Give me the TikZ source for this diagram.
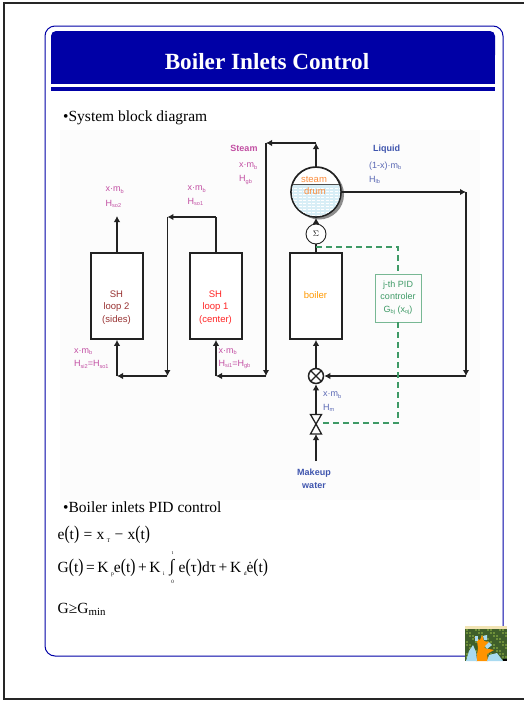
\documentclass[tikz,border=0pt]{standalone}
\usepackage{fontspec}
\setmainfont{Liberation Serif}
\newfontfamily\labelfont{Liberation Sans}
\usepackage{xcolor}
\usepackage{tikz}
\usetikzlibrary{arrows.meta,calc}
\definecolor{navy}{HTML}{0000A6}
\definecolor{ink}{HTML}{222222}
\definecolor{steamcol}{HTML}{C24FA3}
\definecolor{liquidcol}{HTML}{5A68B4}
\definecolor{makeupcol}{HTML}{3F55AE}
\definecolor{pidcol}{HTML}{3E9A66}
\definecolor{orangecol}{HTML}{FB8C3C}
\definecolor{watercol}{HTML}{D8EEF6}
\definecolor{leafcol}{HTML}{3F5F2A}
\definecolor{leafspeck}{HTML}{6E8F3A}
\definecolor{palmcol}{HTML}{A9DAF0}
\newcommand{\subtxt}[1]{\raisebox{-0.3ex}{\scalebox{0.62}{#1}}}
\newcommand{\tinysub}[1]{\raisebox{-0.45ex}{\scalebox{0.36}{#1}}}
\newcommand{\bigp}[1]{\scalebox{1}[1.25]{#1}}
\tikzset{
  flow/.style={draw=ink, line width=1.7pt},
  flowarrow/.style={flow, -{Latex[length=6pt,width=6.5pt]}},
  pidline/.style={draw=pidcol, line width=1.7pt, dash pattern=on 6pt off 4pt},
  blockbox/.style={draw=ink, line width=1.7pt, fill=white, minimum width=52pt, minimum height=86pt, inner sep=0pt},
  blocktext/.style={inner sep=0pt, align=center, font=\labelfont\fontsize{9.5}{12.5}\selectfont},
  flowlabel/.style={inner sep=0pt, anchor=west, font=\labelfont\fontsize{9}{11}\selectfont},
  headlabel/.style={inner sep=0pt, font=\labelfont\bfseries\fontsize{9}{11}\selectfont},
  slidetext/.style={inner sep=0pt, anchor=west, font=\fontsize{15.5}{17}\selectfont, text=black},
}
\begin{document}
\begin{tikzpicture}[x=1pt,y=-1pt]
  \useasboundingbox (0,0) rectangle (524,702);
  \fill[white] (0,0) rectangle (524,702);
  % slide frame
  \draw[black!85, line width=1.8pt] (524,3) -- (4,3) -- (4,699) -- (524,699);
  \draw[navy, line width=1pt, rounded corners=10pt] (503,627) -- (503,26) -- (45,26) -- (45,656) -- (465,656);
  \fill[navy, rounded corners=5pt] (51,31) rectangle (495,60);
  \fill[navy] (51,45) rectangle (495,84);
  \fill[navy] (51,87) rectangle (495,91);
  \node[inner sep=0pt, text=white, font=\bfseries\fontsize{23.2}{25}\selectfont] (title) at (267,62) {Boiler Inlets Control};
  \node[slidetext] (diagramtext) at (63,118) {•System block diagram};
  \fill[black!1] (60,130) rectangle (480,500);

  % blocks
  \node[blockbox] (shtwo) at (117,296) {};
  \node[blockbox] (shone) at (216,296) {};
  \node[blockbox] (boiler) at (316,296) {};
  \node[blocktext, text=red!50!black!80] (shtwotxt) at (116.5,307.5) {SH\\loop 2\\(sides)};
  \node[blocktext, text=red!85] (shonetxt) at (215.5,307.5) {SH\\loop 1\\(center)};
  \node[blocktext, text=orange!80!yellow] (boilertxt) at (315.5,295.5) {boiler};
  \node[draw=pidcol!70, line width=0.8pt, minimum width=46pt, minimum height=48pt, inner sep=0pt, align=center,
        text=pidcol, font=\labelfont\fontsize{9}{12.5}\selectfont] (pid) at (398,298)
        {j-th PID\\controler\\G\subtxt{bj} (x\subtxt{oj})};

  % steam drum
  \fill[black!45] (319,194.5) circle (25);
  \node[circle, draw=ink, line width=1.7pt, fill=white, minimum size=50pt, inner sep=0pt] (drum) at (316,192) {};
  \begin{scope}
    \clip (316,192) circle (24.1);
    \fill[watercol] (285,184.5) rectangle (347,220);
    \foreach \wy in {188,191,...,216}
      \draw[white, line width=0.4pt, dash pattern=on 3pt off 1.5pt] (285,\wy) -- (347,\wy);
    \draw[ink!80, line width=0.9pt] (285,184.5) -- (347,184.5);
  \end{scope}
  \node[inner sep=0pt, text=orangecol, font=\labelfont\fontsize{9.5}{11}\selectfont] (steamtxt) at (314,179) {steam};
  \node[inner sep=0pt, text=orangecol, font=\labelfont\fontsize{9.5}{11}\selectfont] (drumtxt) at (315,191) {drum};

  \node[circle, draw=ink, line width=0.9pt, fill=white, minimum size=20pt, inner sep=0pt, font=\fontsize{8}{9}\selectfont] (sigma) at (316,234) {$\Sigma$};
  \node[circle, draw=ink, line width=1.5pt, fill=white, minimum size=15pt, inner sep=0pt] (mixer) at (316,376) {};
  \draw[ink, line width=1.3pt] (mixer.north west) -- (mixer.south east) (mixer.north east) -- (mixer.south west);

  % valve
  \coordinate (valve) at (316,424);
  \coordinate (valvetop) at (316,414.5);
  \coordinate (valvebot) at (316,434);
  \draw[ink, line width=1.3pt, fill=white] (310.5,414.5) -- (321.5,414.5) -- (valve) -- cycle;
  \draw[ink, line width=1.3pt, fill=white] (310.5,434) -- (321.5,434) -- (valve) -- cycle;

  % bends
  \coordinate (makeup) at (316,461);
  \coordinate (drumtop) at (316,143);
  \coordinate (steamup) at (266,143);
  \coordinate (steamdown) at (266,376);
  \coordinate (shoneunder) at (216,376);
  \coordinate (shoneover) at (216,217);
  \coordinate (crossover) at (167.4,217);
  \coordinate (crossdown) at (167.4,376);
  \coordinate (shtwounder) at (117,376);
  \coordinate (shtwoout) at (117,216);
  \coordinate (liquidbend) at (466,192);
  \coordinate (liquiddown) at (466,376);

  % water and steam lines
  \draw[flowarrow] (makeup) -- (valvebot);
  \draw[flowarrow] (valvetop) -- (mixer.south);
  \draw[flowarrow] (mixer.north) -- (boiler.south);
  \draw[flow] (boiler.north) -- (sigma.south);
  \draw[flowarrow] (sigma.north) -- (drum.south);
  \draw[flowarrow] (drum.north) -- (drumtop);
  \draw[flowarrow] (drumtop) -- (steamup);
  \draw[flowarrow] (steamup) -- (steamdown);
  \draw[flowarrow] (steamdown) -- (shoneunder);
  \draw[flowarrow] (shoneunder) -- (shone.south);
  \draw[flow] (shone.north) -- (shoneover);
  \draw[flowarrow] (shoneover) -- (crossover);
  \draw[flowarrow] (crossover) -- (crossdown);
  \draw[flowarrow] (crossdown) -- (shtwounder);
  \draw[flowarrow] (shtwounder) -- (shtwo.south);
  \draw[flowarrow] (shtwo.north) -- (shtwoout);
  \draw[flowarrow] (drum.east) -- (liquidbend);
  \draw[flowarrow] (liquidbend) -- (liquiddown);
  \draw[flowarrow] (liquiddown) -- (mixer.east);

  % control lines
  \coordinate (sigmatap) at (316,247);
  \coordinate (pidover) at (398,247);
  \coordinate (pidunder) at (398,423);
  \coordinate (valvetap) at (320,423);
  \draw[pidline] (sigmatap) -- (pidover) -- (pid.north);
  \draw[pidline] (pid.south) -- (pidunder) -- (valvetap);

  % stream labels
  \node[headlabel, text=steamcol] (steamhead) at (244,148.5) {Steam};
  \node[flowlabel, text=steamcol] (steamflow) at (239,166) {x·m\subtxt{b}};
  \node[flowlabel, text=steamcol] (steamh) at (239,180) {H\subtxt{gb}};
  \node[flowlabel, text=steamcol] (sotwoflow) at (105.5,190) {x·m\subtxt{b}};
  \node[flowlabel, text=steamcol] (sotwoh) at (105.5,204) {H\subtxt{so2}};
  \node[flowlabel, text=steamcol] (sooneflow) at (187.5,189) {x·m\subtxt{b}};
  \node[flowlabel, text=steamcol] (sooneh) at (187.5,202) {H\subtxt{so1}};
  \node[flowlabel, text=steamcol] (sitwoflow) at (74,351.5) {x·m\subtxt{b}};
  \node[flowlabel, text=steamcol] (sitwoh) at (74,364.5) {H\subtxt{si2}=H\subtxt{so1}};
  \node[flowlabel, text=steamcol] (sioneflow) at (218.5,351.5) {x·m\subtxt{b}};
  \node[flowlabel, text=steamcol] (sioneh) at (218.5,364.5) {H\subtxt{si1}=H\subtxt{gb}};
  \node[headlabel, text=makeupcol] (liquidhead) at (386.5,149) {Liquid};
  \node[flowlabel, text=liquidcol] (liquidflow) at (369,166) {(1-x)·m\subtxt{b}};
  \node[flowlabel, text=liquidcol] (liquidh) at (369,180) {H\subtxt{lb}};
  \node[flowlabel, text=liquidcol] (inletflow) at (323,395) {x·m\subtxt{b}};
  \node[flowlabel, text=liquidcol] (inleth) at (323,408) {H\subtxt{m}};
  \node[headlabel, text=makeupcol, align=center, font=\labelfont\bfseries\fontsize{9}{12.5}\selectfont] (makeuptxt) at (314,479) {Makeup\\water};

  % control law
  \node[slidetext] (pidtext) at (63,507) {•Boiler inlets PID control};
  \node[slidetext] (errorlaw) at (57.5,535) {e\bigp{(}t\bigp{)}\;=\;x\,\tinysub{T}\;−\;x\bigp{(}t\bigp{)}};
  \node[slidetext] (gainlaw) at (57.5,568) {G\bigp{(}t\bigp{)}\,=\,K\,\tinysub{p}e\bigp{(}t\bigp{)}\,+\,K\,\tinysub{i}};
  \node[inner sep=0pt, font=\fontsize{17}{18}\selectfont] (integral) at (172,567.5) {∫};
  \node[slidetext] (gainrest) at (178.5,568) {e\bigp{(}τ\bigp{)}dτ\,+\,K\,\tinysub{d}ė\bigp{(}t\bigp{)}};
  \node[inner sep=0pt, font=\fontsize{5}{6}\selectfont] (upperlim) at (172.5,553.5) {t};
  \node[inner sep=0pt, font=\fontsize{5}{6}\selectfont] (lowerlim) at (172.5,582) {0};
  \node[slidetext] (minlaw) at (57.5,609) {G≥G\raisebox{-0.3ex}{\scalebox{0.7}{min}}};

  % corner picture
  \fill[leafcol] (465,626) rectangle (507,661);
  \fill[yellow!40!brown!35] (465,626) rectangle (507,628.5);
  \foreach \ix in {0,...,13} {
    \foreach \iy in {0,...,10} {
      \pgfmathtruncatemacro{\speck}{mod(\ix*3+\iy*5,4)}
      \ifnum\speck<2
        \fill[leafspeck] (466+3*\ix,629+3*\iy) rectangle +(1.6,1.6);
      \fi
    }
  }
  \fill[orange!85!yellow] (476,661) -- (478,648) -- (477,641) -- (474,637) -- (480,640) -- (482,635) -- (484,641) -- (489,642) -- (484,648) -- (494,650) -- (487,654) -- (488,661) -- cycle;
  \fill[palmcol] (466,661) -- (469,651) -- (473,645) -- (476,652) -- (477,661) -- cycle;
  \fill[palmcol] (487,661) -- (489,655) -- (497,653) -- (503,661) -- cycle;
  \fill[palmcol] (475,636) rectangle (478,641);
  \fill[palmcol] (483,636) -- (487,635) -- (487,640) -- (484,640) -- cycle;
  \fill[palmcol] (485,646) -- (489,642) -- (492,645) -- (487,649) -- cycle;
  \fill[black] (503,659) rectangle (507,661);
\end{tikzpicture}
\end{document}
